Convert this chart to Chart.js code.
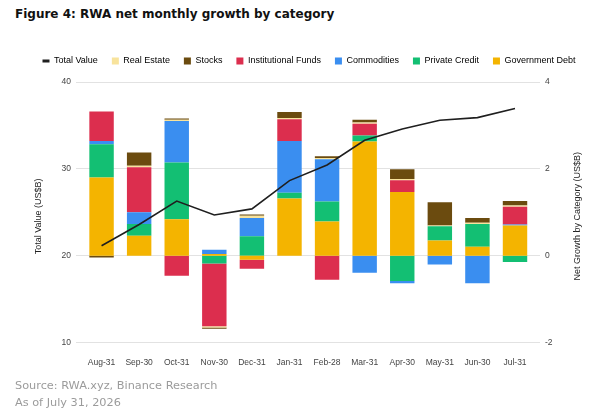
<!DOCTYPE html>
<html lang="en">
<head>
<meta charset="UTF-8">
<title>RWA net monthly growth by category</title>
<script src="https://cdn.jsdelivr.net/npm/chart.js@4"></script>
<style>
  body { margin: 0; background: #fff; width: 600px; height: 411px; position: relative; overflow: hidden; }
  #title { position: absolute; left: 15px; top: 7px; font: bold 12px "DejaVu Sans", sans-serif; color: #111; white-space: nowrap; }
  #wrap { position: absolute; left: 0; top: 0; width: 600px; height: 380px; }
  #source { position: absolute; left: 15px; top: 378px; font: 11.3px "DejaVu Sans", sans-serif; color: #9b9b9b; line-height: 16.5px; white-space: nowrap; }
</style>
</head>
<body>
<div id="title">Figure 4: RWA net monthly growth by category</div>
<div id="wrap"><canvas id="chart"></canvas></div>
<div id="source">Source: RWA.xyz, Binance Research<br>As of July 31, 2026</div>

<script>
// data (US$B)
const months = ['Aug-31', 'Sep-30', 'Oct-31', 'Nov-30', 'Dec-31', 'Jan-31', 'Feb-28', 'Mar-31', 'Apr-30', 'May-31', 'Jun-30', 'Jul-31'];
const totalValue     = [21.15, 23.6, 26.3, 24.7, 25.4, 28.65, 30.45, 33.3, 34.6, 35.6, 35.9, 36.95];
const governmentDebt = [1.80, 0.46, 0.84, 0.04, -0.09, 1.32, 0.79, 2.63, 1.47, 0.35, 0.21, 0.70];
const privateCredit  = [0.77, 0.27, 1.31, -0.18, 0.45, 0.13, 0.46, 0.14, -0.58, 0.33, 0.52, -0.14];
const commodities    = [0.07, 0.27, 0.95, 0.10, 0.42, 1.19, 0.97, -0.39, -0.05, -0.20, -0.63, 0.02];
const instFunds      = [0.68, 1.04, -0.46, -1.44, -0.21, 0.50, -0.55, 0.27, 0.27, 0, 0, 0.41];
const realEstate     = [0, 0.03, 0.03, -0.03, 0.05, 0.03, 0.03, 0.03, 0.03, 0.02, 0.03, 0.03];
const stocks         = [-0.04, 0.31, 0.03, -0.03, 0.03, 0.14, 0.04, 0.06, 0.22, 0.53, 0.11, 0.10];
const leftTicks  = [10, 20, 30, 40];
const rightTicks = [-2, 0, 2, 4];

const leftTitle = 'Total Value (US$B)';
const rightTitle = 'Net Growth by Category (US$B)';
const legendOrder = ['Total Value', 'Real Estate', 'Stocks', 'Institutional Funds', 'Commodities', 'Private Credit', 'Government Debt'];

const colors = {
  'Government Debt': '#F4B400',
  'Private Credit': '#13BF73',
  'Commodities': '#3A8EF0',
  'Institutional Funds': '#DC2E4E',
  'Real Estate': '#F8E39C',
  'Stocks': '#6B4B0F'
};

// stacking order, bottom to top
const barSeries = [
  ['Government Debt', governmentDebt],
  ['Private Credit', privateCredit],
  ['Commodities', commodities],
  ['Institutional Funds', instFunds],
  ['Real Estate', realEstate],
  ['Stocks', stocks]
];

const toPoints = arr => arr.map((v, i) => ({ x: i, y: v }));

const tickFont = { family: '"Liberation Sans", Arial, sans-serif', size: 8.5 };

const datasets = [{
  type: 'line',
  label: 'Total Value',
  data: toPoints(totalValue),
  yAxisID: 'y',
  borderColor: '#1f1f1f',
  backgroundColor: '#1f1f1f',
  borderWidth: 1.6,
  pointRadius: 0,
  tension: 0
}].concat(barSeries.map(([name, values]) => ({
  type: 'bar',
  label: name,
  data: toPoints(values),
  yAxisID: 'y1',
  backgroundColor: colors[name],
  borderWidth: 0,
  barPercentage: 0.65,
  categoryPercentage: 1
})));

// keep the legend block at a fixed height so the plot starts where the reference does
const legendFit = {
  id: 'legendFit',
  afterInit(chart) {
    const fit = chart.legend.fit;
    chart.legend.fit = function () { fit.call(this); this.height = 39.5; };
  }
};

// both axis titles read bottom-to-top
const axisTitles = {
  id: 'axisTitles',
  afterDraw(chart) {
    const { ctx, chartArea, scales } = chart;
    const midY = (chartArea.top + chartArea.bottom) / 2 + 4;
    ctx.save();
    ctx.font = '9px "Liberation Sans", Arial, sans-serif';
    ctx.fillStyle = '#222';
    ctx.textAlign = 'center';
    ctx.textBaseline = 'middle';
    [[scales.y.left + 20.3, leftTitle], [scales.y1.right - 22, rightTitle]].forEach(([x, text]) => {
      ctx.save();
      ctx.translate(x, midY);
      ctx.rotate(-Math.PI / 2);
      ctx.fillText(text, 0, 0);
      ctx.restore();
    });
    ctx.restore();
  }
};

new Chart(document.getElementById('chart'), {
  data: { datasets },
  options: {
    responsive: true,
    maintainAspectRatio: false,
    animation: false,
    layout: { padding: { left: 18, top: 42.5, right: 0, bottom: 0 } },
    plugins: {
      tooltip: { enabled: false },
      legend: {
        position: 'top',
        labels: {
          usePointStyle: true,
          pointStyleWidth: 7,
          boxHeight: 7,
          padding: 14,
          color: '#333',
          font: { family: '"Liberation Sans", Arial, sans-serif', size: 9 },
          generateLabels(chart) {
            return legendOrder.map(name => {
              const i = chart.data.datasets.findIndex(d => d.label === name);
              const ds = chart.data.datasets[i];
              const isLine = ds.type === 'line';
              return {
                text: name,
                datasetIndex: i,
                fillStyle: isLine ? ds.borderColor : ds.backgroundColor,
                strokeStyle: isLine ? ds.borderColor : ds.backgroundColor,
                lineWidth: isLine ? 3 : 0,
                pointStyle: isLine ? 'line' : 'rect',
                hidden: false
              };
            });
          }
        }
      }
    },
    scales: {
      x: {
        type: 'linear',
        offset: false,
        min: -0.68,
        max: 11.665,
        stacked: true,
        grid: { display: false, offset: false },
        border: { display: false },
        ticks: {
          stepSize: 1,
          includeBounds: false,
          autoSkip: false,
          maxTicksLimit: 30,
          maxRotation: 0,
          padding: 7,
          color: '#444',
          font: tickFont,
          callback: v => months[v] ?? ''
        },
        afterFit: s => { s.height = 37.3; }
      },
      y: {
        position: 'left',
        min: leftTicks[0],
        max: leftTicks[leftTicks.length - 1],
        ticks: { stepSize: leftTicks[1] - leftTicks[0], padding: 5, color: '#444', font: tickFont },
        grid: { color: '#e2e2e2', drawTicks: false },
        border: { display: false },
        afterFit: s => { s.width = 58; }
      },
      y1: {
        position: 'right',
        stacked: true,
        min: rightTicks[0],
        max: rightTicks[rightTicks.length - 1],
        ticks: { stepSize: rightTicks[1] - rightTicks[0], padding: 5, color: '#444', font: tickFont },
        grid: { display: false, drawTicks: false },
        border: { display: false },
        afterFit: s => { s.width = 60; }
      }
    }
  },
  plugins: [legendFit, axisTitles]
});
</script>
</body>
</html>
